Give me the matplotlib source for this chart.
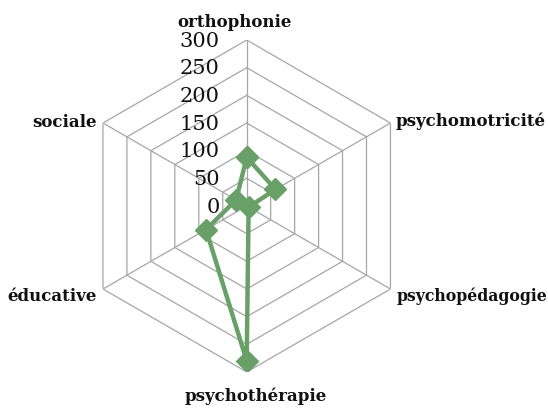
import numpy as np
import matplotlib
matplotlib.use("Agg")
import matplotlib.pyplot as plt

# categories, clockwise from the top
categories = ["orthophonie", "psychomotricité", "psychopédagogie",
              "psychothérapie", "éducative", "sociale"]
values = [88, 60, 4, 280, 85, 22]
ticks = [0, 50, 100, 150, 200, 250, 300]

plt.rcParams["font.family"] = ["DejaVu Serif"]

line_col = "#69a068"
grid_col = "#a6a6a6"

n = len(categories)
angles = np.linspace(0, 2 * np.pi, n, endpoint=False)
closed = np.append(angles, angles[0])

fig = plt.figure(figsize=(5.48, 4.10), dpi=100)
ax = fig.add_axes([0.1473, 0.0902, 0.6058, 0.8098], projection="polar")
ax.set_theta_zero_location("N")
ax.set_theta_direction(-1)
ax.set_ylim(0, ticks[-1])
ax.set_axis_off()

# hexagonal rings and spokes
for t in ticks[1:]:
    ax.plot(closed, [t] * (n + 1), color=grid_col, lw=0.9, zorder=1)
for a in angles:
    ax.plot([a, a], [0, ticks[-1]], color=grid_col, lw=0.9, zorder=1)

# radial tick labels along the top spoke
for t in ticks:
    ax.annotate(str(t), xy=(0, t), xytext=(-27, 0), textcoords="offset pixels",
                ha="right", va="center", fontsize=15, color="#111111")

# series
ax.plot(closed, np.append(values, values[0]), color=line_col, lw=3.2,
        marker="D", markersize=11, markeredgecolor=line_col, zorder=3)

# category labels (the long right-hand one is kept a bit smaller so it fits)
offsets = [(-12, 19, "center", 12), (5, 3, "left", 12), (6, -6, "left", 11.3),
           (9, -23, "center", 12), (-6, -6, "right", 12), (-6, 2, "right", 12)]
for a, name, (dx, dy, ha, fs) in zip(angles, categories, offsets):
    ax.annotate(name, xy=(a, ticks[-1]), xytext=(dx, dy), textcoords="offset pixels",
                ha=ha, va="center", fontsize=fs, fontweight="bold", color="#111111",
                annotation_clip=False)

fig.savefig("out.png", dpi=100)
